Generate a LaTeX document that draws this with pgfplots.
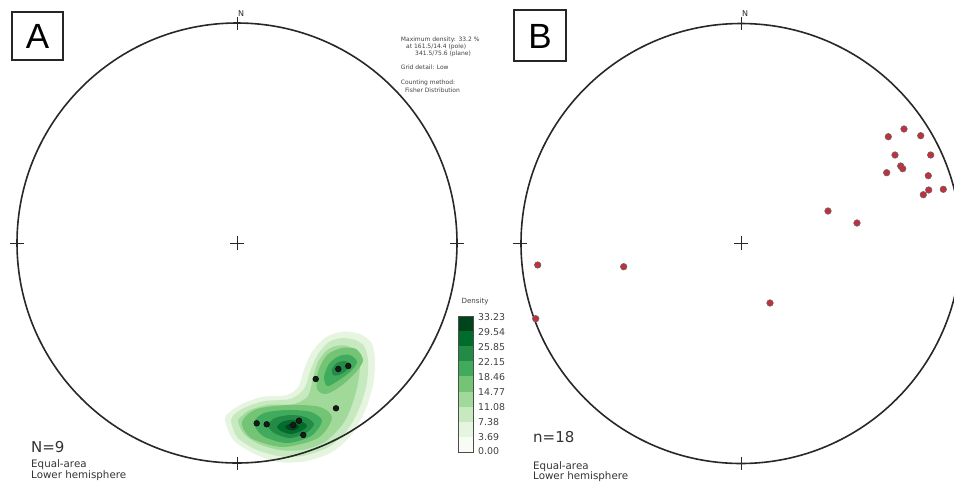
\documentclass[border=0pt]{standalone}
\usepackage{pgfplots}
\pgfplotsset{compat=1.18}
\usepackage{fontspec}
\setmainfont{DejaVu Sans}
\newfontfamily\arial{Liberation Sans}
\definecolor{g0}{HTML}{F7FCF5}
\definecolor{g1}{HTML}{E5F5E0}
\definecolor{g2}{HTML}{C7E9C0}
\definecolor{g3}{HTML}{A1D99B}
\definecolor{g4}{HTML}{74C476}
\definecolor{g5}{HTML}{41AB5D}
\definecolor{g6}{HTML}{238B45}
\definecolor{g7}{HTML}{006D2C}
\definecolor{g8}{HTML}{00441B}
\definecolor{ptred}{RGB}{192,48,62}
\definecolor{netline}{RGB}{40,40,40}
\begin{document}
\begin{tikzpicture}
\begin{axis}[width=954pt, height=483pt, scale only axis,
  xmin=0, xmax=954, ymin=0, ymax=483, y dir=reverse, hide axis, clip=true]
\coordinate (bl) at (axis cs:0,483);
\coordinate (tr) at (axis cs:954,0);
% ---- density contours (net A) ----
\addplot[fill=g1, draw=none, smooth cycle] coordinates {
(225,420) (233.3,440) (253.3,453.3) (276.7,461.7) (303.3,461.7) (330,453.3)
(346.7,440) (356.7,426.7) (366.7,406.7) (373.3,383.3) (375,360) (371.7,343.3)
(360,334) (343.3,331.7) (326.7,336.7) (313.3,350) (305,366.7) (298.3,386.7)
(286.7,395) (263.3,396.7) (243.3,403.3) (230,411.7)};
\addplot[fill=g2, draw=none, smooth cycle] coordinates {
(231,420) (237,437) (255,449) (278,456) (302,456) (327,448) (342,436) (352,423)
(361,404) (367,382) (368,360) (364,346) (355,340) (342,338) (329,342) (318,354)
(311,369) (304,389) (290,399) (265,401) (246,407) (236,413)};
\addplot[fill=g3, draw=none, smooth cycle] coordinates {
(238,421) (244,434) (259,444) (280,450) (302,450) (323,443) (336,432) (346,419)
(353,402) (358,383) (360,364) (356,352) (347,346) (336,346) (326,351) (318,362)
(313,378) (308,396) (294,404) (268,405) (250,410) (242,416)};
\addplot[fill=g4, draw=none, smooth cycle] coordinates {
(332,418) (320,407) (290,405) (257,409) (242,422) (251,438) (283,447) (318,438)};
\addplot[fill=g4, draw=none, smooth cycle] coordinates {
(363,360) (356,349) (342,348) (327,355) (318,372) (317,389) (326,394) (341,386) (356,372)};
\addplot[fill=g5, draw=none, smooth cycle] coordinates {
(322,421) (311,412) (288,410) (264,413) (254,423) (263,436) (287,443) (311,436)};
\addplot[fill=g5, draw=none, smooth cycle] coordinates {
(357,362) (350,355) (339,356) (329,364) (324,377) (327,386) (336,382) (350,372)};
\addplot[fill=g6, draw=none, smooth cycle] coordinates {
(314,424) (305,417) (290,415) (275,418) (268,425) (274,433) (290,438) (306,433)};
\addplot[fill=g6, draw=none, smooth cycle] coordinates {
(350,364) (345,361) (337,363) (332,369) (333,375) (339,375) (347,370)};
\addplot[fill=g7, draw=none, smooth cycle] coordinates {
(307,426) (301,421) (291,420) (282,422) (277,427) (281,431) (291,434) (301,431)};
\addplot[fill=g8, draw=none, smooth cycle] coordinates {
(299,427) (296,424.5) (292,423.5) (288,424.5) (285,427) (288,429.5) (292,430.5) (296,429.5)};
% ---- nets ----
\draw[line width=1.6pt, netline] (axis cs:237,243) circle[radius=220pt];
\draw[line width=1.6pt, netline] (axis cs:741,243.5) circle[radius=220pt];
\draw[line width=0.7pt, netline]
  (axis cs:230,243) -- (axis cs:244,243) (axis cs:237,236) -- (axis cs:237,250)
  (axis cs:237,17) -- (axis cs:237,30) (axis cs:237,457) -- (axis cs:237,470)
  (axis cs:10,243) -- (axis cs:24,243) (axis cs:450,243) -- (axis cs:464,243)
  (axis cs:734,243) -- (axis cs:748,243) (axis cs:741,236) -- (axis cs:741,250)
  (axis cs:741,17) -- (axis cs:741,30) (axis cs:741,457) -- (axis cs:741,470)
  (axis cs:513,243) -- (axis cs:527,243);
\node[font=\fontsize{8}{8}\selectfont, text=netline] at (axis cs:241,14) {N};
\node[font=\fontsize{8}{8}\selectfont, text=netline] at (axis cs:745,14) {N};
% ---- poles A ----
\addplot[only marks, mark=*, mark size=2.9pt, mark options={fill=black!90, draw=black}] coordinates {
(256.7,423.3) (266.7,424.3) (293.3,425) (299,420.7) (303.3,435) (336,408.3)
(315.7,379) (338.3,369) (348.3,366)};
% ---- poles B ----
\addplot[only marks, mark=*, mark size=3.3pt, mark options={fill=ptred, draw=black!60, line width=0.5pt}] coordinates {
(888.3,136.7) (904,129) (920.7,135.7) (895,155) (930.7,155) (900.7,166)
(902.7,168.7) (886.7,172.7) (928.3,175.7) (928.7,190) (943.3,189.3) (923.3,194.7)
(828,211) (857,223) (623.7,266.7) (537.7,265) (535.7,318.7) (770,303)};
% ---- colorbar ----
\fill[g0] (axis cs:458,452) rectangle (axis cs:473,436.9);
\fill[g1] (axis cs:458,436.9) rectangle (axis cs:473,421.8);
\fill[g2] (axis cs:458,421.8) rectangle (axis cs:473,406.7);
\fill[g3] (axis cs:458,406.7) rectangle (axis cs:473,391.6);
\fill[g4] (axis cs:458,391.6) rectangle (axis cs:473,376.4);
\fill[g5] (axis cs:458,376.4) rectangle (axis cs:473,361.3);
\fill[g6] (axis cs:458,361.3) rectangle (axis cs:473,346.2);
\fill[g7] (axis cs:458,346.2) rectangle (axis cs:473,331.1);
\fill[g8] (axis cs:458,331.1) rectangle (axis cs:473,316);
\draw[line width=0.8pt, black!70] (axis cs:458,316) rectangle (axis cs:473,452);
\node[font=\fontsize{7.1}{7.1}\selectfont, anchor=west, text=black!75] at (axis cs:458,302) {Density};
\begin{scope}[every node/.style={font=\fontsize{9.4}{9.4}\selectfont, anchor=west, text=black!75, inner sep=0pt}]
\node at (axis cs:478,317) {33.23};
\node at (axis cs:478,332) {29.54};
\node at (axis cs:478,347) {25.85};
\node at (axis cs:478,362) {22.15};
\node at (axis cs:478,377) {18.46};
\node at (axis cs:478,392) {14.77};
\node at (axis cs:478,407) {11.08};
\node at (axis cs:478,422) {7.38};
\node at (axis cs:478,437) {3.69};
\node at (axis cs:478,451) {0.00};
\end{scope}
% ---- info text A ----
\begin{scope}[every node/.style={font=\fontsize{6}{6}\selectfont, anchor=west, text=black!75, inner sep=0pt}]
\node at (axis cs:400.7,40) {Maximum density: 33.2 \%};
\node at (axis cs:406,46.5) {at 161.5/14.4 (pole)};
\node at (axis cs:415,53.5) {341.5/75.6 (plane)};
\node at (axis cs:400.7,67.7) {Grid detail: Low};
\node at (axis cs:400.7,82.7) {Counting method:};
\node at (axis cs:405,90.7) {Fisher Distribution};
\end{scope}
% ---- labels ----
\draw[line width=1.3pt, black!85] (axis cs:12,12) rectangle (axis cs:63,60);
\node[font=\arial\fontsize{35}{35}\selectfont, inner sep=0pt] at (axis cs:37.5,36) {A};
\draw[line width=1.3pt, black!85] (axis cs:514,10) rectangle (axis cs:566,61);
\node[font=\arial\fontsize{35}{35}\selectfont, inner sep=0pt] at (axis cs:540,36) {B};
\begin{scope}[every node/.style={anchor=west, inner sep=0pt, text=black!80}]
\node[font=\fontsize{15}{15}\selectfont] at (axis cs:31,447.5) {N=9};
\node[font=\fontsize{10.3}{10.3}\selectfont] at (axis cs:31,465) {Equal-area};
\node[font=\fontsize{10.3}{10.3}\selectfont] at (axis cs:31,476) {Lower hemisphere};
\node[font=\fontsize{15}{15}\selectfont] at (axis cs:533,437.5) {n=18};
\node[font=\fontsize{10.3}{10.3}\selectfont] at (axis cs:533,466.5) {Equal-area};
\node[font=\fontsize{10.3}{10.3}\selectfont] at (axis cs:533,477) {Lower hemisphere};
\end{scope}
\end{axis}
\pgfresetboundingbox
\useasboundingbox (bl) rectangle (tr);
\end{tikzpicture}
\end{document}
